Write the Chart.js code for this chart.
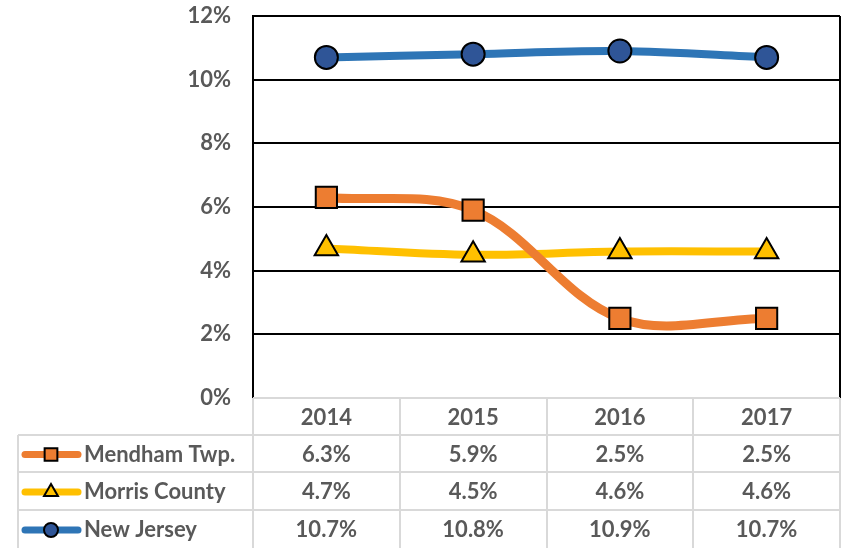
<!DOCTYPE html>
<html>
<head>
<meta charset="utf-8">
<script src="https://cdn.jsdelivr.net/npm/chart.js@4"></script>
<style>
  html, body { margin: 0; padding: 0; background: #fff; }
  #wrap { width: 843px; height: 548px; position: relative; }
</style>
</head>
<body>
<div id="wrap"><canvas id="rateChart"></canvas></div>
<script>
const years = ['2014', '2015', '2016', '2017'];
const mendham = [6.3, 5.9, 2.5, 2.5];
const morris = [4.7, 4.5, 4.6, 4.6];
const newJersey = [10.7, 10.8, 10.9, 10.7];
const seriesNames = ['Mendham Twp.', 'Morris County', 'New Jersey'];
const yTicks = [0, 2, 4, 6, 8, 10, 12];

const textColor = '#595959';
const fontFamily = 'Lato, "Liberation Sans", sans-serif';
const tableGray = '#d9d9d9';

// data table under the plot (years row + one row per series)
const dataTable = {
    id: 'dataTable',
    afterDraw(chart) {
        const ctx = chart.ctx;
        const area = chart.chartArea;
        const x = chart.scales.x;
        const rowTop = [area.bottom, 435, 472, 510, 548];
        const legendLeft = 18;
        const step = x.getPixelForValue(1) - x.getPixelForValue(0);

        ctx.save();
        // right border of plot
        ctx.strokeStyle = '#000';
        ctx.lineWidth = 2;
        ctx.beginPath();
        ctx.moveTo(area.right, area.top);
        ctx.lineTo(area.right, area.bottom);
        ctx.stroke();

        ctx.strokeStyle = tableGray;
        ctx.lineWidth = 2;
        ctx.beginPath();
        // horizontal lines
        ctx.moveTo(area.left, rowTop[0]);
        ctx.lineTo(area.right, rowTop[0]);
        for (let r = 1; r < 4; r++) {
            ctx.moveTo(legendLeft, rowTop[r]);
            ctx.lineTo(area.right, rowTop[r]);
        }
        // vertical lines
        ctx.moveTo(legendLeft, rowTop[1]);
        ctx.lineTo(legendLeft, 548);
        for (let i = 0; i <= years.length; i++) {
            const cx = Math.round(x.getPixelForValue(i) - step / 2);
            ctx.moveTo(cx, rowTop[0]);
            ctx.lineTo(cx, 548);
        }
        ctx.stroke();

        ctx.fillStyle = textColor;
        ctx.font = 'bold 22px ' + fontFamily;
        ctx.textAlign = 'center';
        ctx.textBaseline = 'middle';
        years.forEach((yr, i) => {
            ctx.fillText(yr, x.getPixelForValue(i), (rowTop[0] + rowTop[1]) / 2 + 1);
        });

        chart.data.datasets.forEach((ds, r) => {
            const cy = (rowTop[r + 1] + rowTop[r + 2]) / 2 + 1;
            ds.data.forEach((v, i) => {
                ctx.fillStyle = textColor;
                ctx.textAlign = 'center';
                ctx.fillText(v.toFixed(1) + '%', x.getPixelForValue(i), cy);
            });
            // legend key
            ctx.strokeStyle = ds.borderColor;
            ctx.lineWidth = 7;
            ctx.lineCap = 'round';
            ctx.beginPath();
            ctx.moveTo(25, cy);
            ctx.lineTo(78, cy);
            ctx.stroke();
            ctx.fillStyle = ds.pointBackgroundColor;
            ctx.strokeStyle = '#000';
            ctx.lineWidth = 2;
            Chart.helpers.drawPoint(ctx, {
                pointStyle: ds.pointStyle,
                radius: ds.legendRadius,
                rotation: 0,
                borderWidth: 2
            }, 51, cy);
            ctx.fillStyle = textColor;
            ctx.textAlign = 'left';
            ctx.fillText(seriesNames[r], 84, cy);
        });
        ctx.restore();
    }
};

new Chart(document.getElementById('rateChart'), {
    type: 'line',
    data: {
        labels: years,
        datasets: [
            {
                label: seriesNames[0],
                data: mendham,
                borderColor: '#ED7D31',
                borderWidth: 9,
                pointStyle: 'rect',
                pointRadius: 15,
                legendRadius: 9,
                pointBackgroundColor: '#ED7D31',
                pointBorderColor: '#000',
                pointBorderWidth: 2,
                tension: 0.35
            },
            {
                label: seriesNames[1],
                data: morris,
                borderColor: '#FFC000',
                borderWidth: 8,
                pointStyle: 'triangle',
                pointRadius: 13.5,
                legendRadius: 8,
                pointBackgroundColor: '#FFC000',
                pointBorderColor: '#000',
                pointBorderWidth: 2,
                tension: 0.35
            },
            {
                label: seriesNames[2],
                data: newJersey,
                borderColor: '#2E75B6',
                borderWidth: 8,
                pointStyle: 'circle',
                pointRadius: 11.5,
                legendRadius: 7,
                pointBackgroundColor: '#2F5597',
                pointBorderColor: '#000',
                pointBorderWidth: 2,
                tension: 0.35
            }
        ]
    },
    options: {
        responsive: true,
        maintainAspectRatio: false,
        animation: false,
        layout: { autoPadding: false, padding: { top: 16, right: 3, bottom: 150, left: 0 } },
        plugins: {
            legend: { display: false },
            tooltip: { enabled: false }
        },
        scales: {
            x: {
                display: false,
                offset: true
            },
            y: {
                min: 0,
                max: 12,
                afterFit(scale) {
                    scale.width = 253;
                    scale.paddingTop = 0;
                    scale.paddingBottom = 0;
                },
                afterBuildTicks(scale) { scale.ticks = yTicks.map(v => ({ value: v })); },
                border: { color: '#000', width: 2 },
                grid: {
                    drawTicks: false,
                    lineWidth: 2,
                    color: ctx => ctx.tick && ctx.tick.value === 0 ? 'rgba(0,0,0,0)' : '#000'
                },
                ticks: {
                    padding: 22,
                    color: textColor,
                    font: { family: fontFamily, size: 22, weight: 'bold' },
                    callback: v => v + '%'
                }
            }
        }
    },
    plugins: [dataTable]
});
</script>
</body>
</html>
